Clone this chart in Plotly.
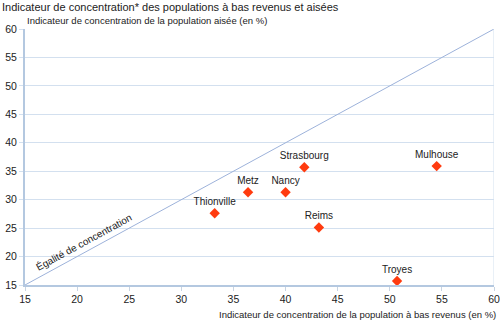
import plotly.graph_objects as go

# City coordinates: concentration of low-income vs. affluent populations (%)
villes = ["Thionville", "Metz", "Nancy", "Strasbourg", "Reims", "Mulhouse", "Troyes"]
bas_revenus = [33.2, 36.4, 40.0, 41.8, 43.2, 54.5, 50.7]
aisees = [27.6, 31.3, 31.3, 35.7, 25.1, 35.9, 15.7]

# Equality line endpoints and axis ticks
egalite = [15, 60]
ticks = [15, 20, 25, 30, 35, 40, 45, 50, 55, 60]

FONT = "Liberation Sans, Arial, sans-serif"
GRID = "#D3E0EF"
AXIS = "#B4C8E0"
INK = "#222222"

fig = go.Figure()

fig.add_trace(go.Scatter(
    x=egalite, y=egalite, mode="lines",
    line=dict(color="#9DB2DA", width=1),
    hoverinfo="skip", showlegend=False,
))

fig.add_trace(go.Scatter(
    x=bas_revenus, y=aisees, mode="markers+text",
    text=villes, textposition="top center",
    textfont=dict(family=FONT, size=10, color=INK),
    marker=dict(symbol="diamond", size=8, color="#FF3B0F"),
    showlegend=False, cliponaxis=False,
))

# right-hand border of the plotting area
fig.add_shape(type="line", xref="x", yref="paper", x0=60, x1=60, y0=0, y1=1,
              line=dict(color=GRID, width=1))

fig.update_layout(
    width=500, height=333,
    margin=dict(l=25, r=6, t=29, b=48),
    paper_bgcolor="white", plot_bgcolor="white",
    font=dict(family=FONT, size=10, color=INK),
    title=dict(
        text="Indicateur de concentration* des populations à bas revenus et aisées",
        x=0.004, xanchor="left", y=0.99, yanchor="top",
        font=dict(family=FONT, size=11, color=INK),
    ),
    xaxis=dict(
        range=[15, 60], tickvals=ticks, showgrid=False, zeroline=False,
        showline=True, linecolor=AXIS, linewidth=1.5,
        ticks="outside", ticklen=4, tickcolor="#C8D4E2",
        tickfont=dict(family=FONT, size=10.5, color=INK),
        fixedrange=True, automargin=False,
    ),
    yaxis=dict(
        range=[15, 60], tickvals=ticks, showgrid=True, gridcolor=GRID, gridwidth=1,
        zeroline=False, showline=True, linecolor=AXIS, linewidth=2,
        ticks="outside", ticklen=4, tickcolor=GRID,
        tickfont=dict(family=FONT, size=10.5, color=INK),
        fixedrange=True, automargin=False,
    ),
    annotations=[
        dict(x=20.6, y=22.6, xref="x", yref="y",
             text="Égalité de concentration", showarrow=False,
             textangle=-28.6, font=dict(family=FONT, size=10, color=INK)),
        dict(text="Indicateur de concentration de la population aisée (en %)",
             xref="paper", yref="paper", x=0.0, y=1.0, xanchor="left", yanchor="bottom",
             yshift=1, showarrow=False, font=dict(family=FONT, size=9.5, color=INK)),
        dict(text="Indicateur de concentration de la population à bas revenus (en %)",
             xref="paper", yref="paper", x=1.0, y=0.0, xanchor="right", yanchor="top",
             yshift=-22, xshift=4, showarrow=False, font=dict(family=FONT, size=9.5, color=INK)),
    ],
)

fig.write_html("out.html")
